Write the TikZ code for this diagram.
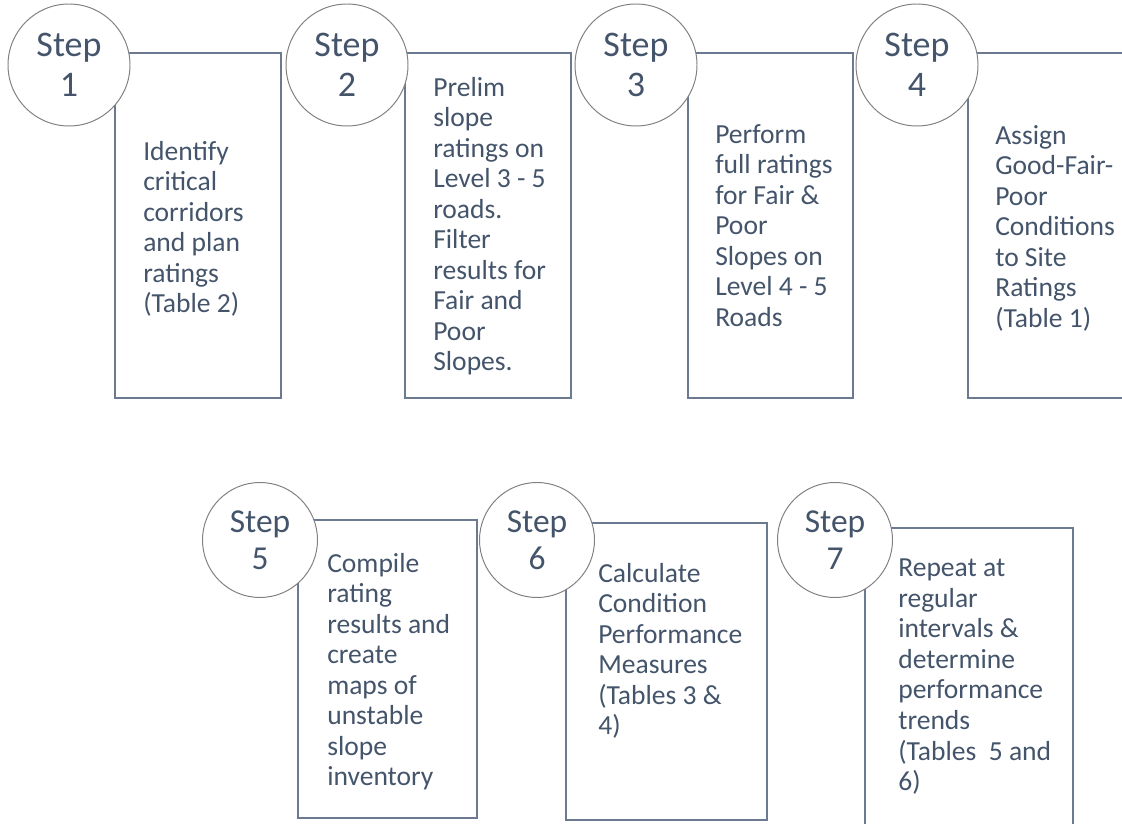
\documentclass[tikz,border=0pt]{standalone}
\usepackage{fontspec}
\setmainfont{Carlito}
\definecolor{txtslate}{RGB}{68,84,106}
\definecolor{boxslate}{RGB}{108,122,145}
\definecolor{ringgray}{RGB}{128,128,128}
\usetikzlibrary{positioning}

\tikzset{
  stepring/.style={circle, draw=ringgray, line width=0.7pt, fill=white, text=txtslate, align=center, inner sep=0pt},
  bigring/.style={stepring, minimum size=3.05cm, font=\fontsize{25.6}{28.5}\selectfont},
  smallring/.style={stepring, minimum size=2.875cm, font=\fontsize{23.8}{26}\selectfont},
  listbox/.style={draw=boxslate, line width=1.3pt},
  listtext/.style={anchor=north west, inner sep=0pt, align=left, text=txtslate, font=\fontsize{19.6}{21.7}\selectfont}
}

\begin{document}
\begin{tikzpicture}
  \useasboundingbox (0,0) rectangle (28.05,20.575);
  \clip (0,0) rectangle (28.05,20.575);

  % Step 1
  \draw[listbox] (2.875,19.25) rectangle (7.025,10.625);
  \node[listtext] (t1) at (3.575,17.05) {Identify\\critical\\corridors\\and plan\\ratings\\(Table 2)};
  \node[bigring] (s1) at (1.725,18.95) {Step\\1};

  % Step 2
  \draw[listbox] (10.125,19.25) rectangle (14.275,10.625);
  \node[listtext] (t2) at (10.825,18.65) {Prelim\\slope\\ratings on\\Level 3 - 5\\roads.\\Filter\\results for\\Fair and\\Poor\\Slopes.};
  \node[bigring] (s2) at (8.675,18.95) {Step\\2};

  % Step 3
  \draw[listbox] (17.2,19.25) rectangle (21.325,10.625);
  \node[listtext] (t3) at (17.875,17.475) {Perform\\full ratings\\for Fair \&\\Poor\\Slopes on\\Level 4 - 5\\Roads};
  \node[bigring] (s3) at (15.9,18.95) {Step\\3};

  % Step 4 (box runs off the right edge)
  \draw[listbox] (24.2,19.25) rectangle (28.6,10.625);
  \node[listtext] (t4) at (24.875,17.45) {Assign\\Good-Fair-\\Poor\\Conditions\\to Site\\Ratings\\(Table 1)};
  \node[bigring] (s4) at (22.925,18.95) {Step\\4};

  % Step 5
  \draw[listbox] (7.45,7.575) rectangle (11.925,0.125);
  \node[listtext] (t5) at (8.175,6.75) {Compile\\rating\\results and\\create\\maps of\\unstable\\slope\\inventory};
  \node[smallring] (s5) at (6.5,7.075) {Step\\5};

  % Step 6
  \draw[listbox] (14.15,7.5) rectangle (19.175,0.075);
  \node[listtext] (t6) at (14.95,6.5) {Calculate\\Condition\\Performance\\Measures\\(Tables 3 \&\\4)};
  \node[smallring] (s6) at (13.425,7.075) {Step\\6};

  % Step 7 (box runs off the bottom edge)
  \draw[listbox] (21.625,7.375) rectangle (26.825,-0.6);
  \node[listtext] (t7) at (22.45,6.6) {Repeat at\\regular\\intervals \&\\determine\\performance\\trends\\(Tables\ \ 5 and\\6)};
  \node[smallring] (s7) at (20.875,7.075) {Step\\7};
\end{tikzpicture}
\end{document}
